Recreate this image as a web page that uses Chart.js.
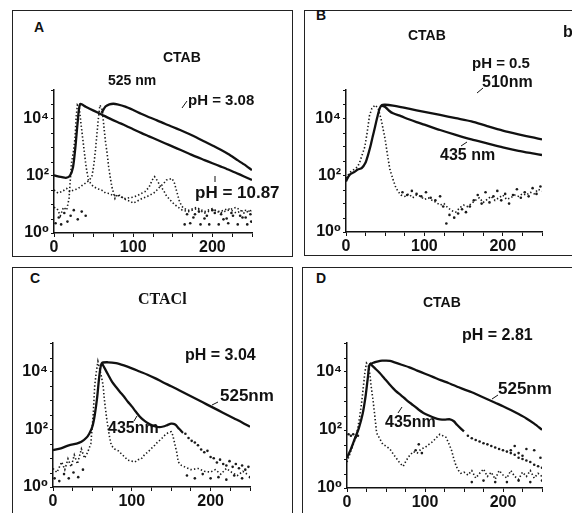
<!DOCTYPE html>
<html>
<head>
<meta charset="utf-8">
<script src="https://cdn.jsdelivr.net/npm/chart.js@4.4.0/dist/chart.umd.min.js"></script>
<style>
body { margin:0; width:572px; height:513px; background:#fff; position:relative; overflow:hidden;
       font-family:'Liberation Sans', Arial, sans-serif; font-weight:bold; color:#111; }
.box { position:absolute; border:1.5px solid #222; }
.t { position:absolute; white-space:nowrap; line-height:1; }
canvas { position:absolute; }
svg { position:absolute; left:0; top:0; }
</style>
</head>
<body>
<div class="box" style="left:12px;top:10px;width:279px;height:245px"></div>
<div class="box" style="left:304px;top:10px;width:290px;height:244px"></div>
<div class="box" style="left:12px;top:267px;width:279px;height:270px"></div>
<div class="box" style="left:302px;top:267px;width:290px;height:270px"></div>

<canvas id="cA" width="246" height="175"></canvas>
<canvas id="cB" width="244" height="174"></canvas>
<canvas id="cC" width="245" height="176"></canvas>
<canvas id="cD" width="243" height="177"></canvas>

<div class="t" style="left:34px;top:20px;font-size:14px">A</div>
<div class="t" style="left:163px;top:50px;font-size:14px">CTAB</div>
<div class="t" style="left:108px;top:73px;font-size:14px">525 nm</div>
<div class="t" style="left:188px;top:92px;font-size:15px">pH = 3.08</div>
<div class="t" style="left:195px;top:184px;font-size:17px">pH = 10.87</div>

<div class="t" style="left:316px;top:8px;font-size:14px">B</div>
<div class="t" style="left:408px;top:28px;font-size:14px">CTAB</div>
<div class="t" style="left:472px;top:55px;font-size:15px">pH = 0.5</div>
<div class="t" style="left:482px;top:74px;font-size:16px">510nm</div>
<div class="t" style="left:440px;top:147px;font-size:16px">435 nm</div>
<div class="t" style="left:563px;top:24px;font-size:16px">b</div>

<div class="t" style="left:30px;top:271px;font-size:14px">C</div>
<div class="t" style="left:138px;top:291px;font-size:16px;font-family:'Liberation Serif',serif">CTACl</div>
<div class="t" style="left:185px;top:347px;font-size:16px">pH = 3.04</div>
<div class="t" style="left:220px;top:387px;font-size:17px">525nm</div>
<div class="t" style="left:108px;top:420px;font-size:16px">435nm</div>

<div class="t" style="left:316px;top:271px;font-size:14px">D</div>
<div class="t" style="left:423px;top:295px;font-size:14px">CTAB</div>
<div class="t" style="left:462px;top:327px;font-size:16px">pH = 2.81</div>
<div class="t" style="left:498px;top:380px;font-size:17px">525nm</div>
<div class="t" style="left:385px;top:414px;font-size:16px">435nm</div>

<svg width="572" height="513" stroke="#111" stroke-width="1">
  <line x1="187" y1="101" x2="182" y2="108"/>
  <line x1="215" y1="176" x2="215" y2="182"/>
  <line x1="483" y1="88" x2="477" y2="93"/>
  <line x1="467" y1="142" x2="461" y2="146"/>
  <line x1="218" y1="402" x2="212" y2="405"/>
  <line x1="137" y1="416" x2="134" y2="421"/>
  <line x1="498" y1="395" x2="492" y2="399"/>
  <line x1="402" y1="407" x2="398" y2="413"/>
</svg>

<script>
// channel axis and counts axis
const xTicksMajor = [0, 100, 200];
const yTicksShown = [1, 100, 10000];
const yTickText = ['10\u2070', '10\u00b2', '10\u2074'];

// ---- A: CTAB, 525 nm ----
const aFastT = [0,5,10,15,20,24,27,30,33,40,50,60,70,80,90,100,110,120,130,140,150,160,170,180,190,200,210,220,230,240,250];
const aFastY = [105,95,90,85,100,200,1000,8000,32000,26000,19000,14000,10200,7600,5750,4270,3160,2400,1820,1380,1050,794,603,457,355,275,214,166,126,95,71];
const aSlowT = [60,65,70,75,80,90,100,110,120,130,140,150,160,170,180,190,200,210,220,230,240,250];
const aSlowY = [15800,26300,31600,33100,31600,26300,20000,14800,11200,8700,6600,5100,3900,2950,2190,1580,1150,830,575,380,250,158];
const aLamp1T = [0,4,8,12,16,19,22,24.5,26.5,28,29.5,32,34,36,38,40.5,43.5,47,50,55,60,65,70,75,80,85,90,95,100,105,110,115,120,124,127,130,134,138,142,147,152,157,162,170,180,190,200,210,220,230,240,250];
const aLamp1Y = [7.9,7.1,4.0,7.9,6.3,16,275,690,2040,11500,29500,22900,6900,2340,794,209,71,50,42,35,32,25,24,20,21,18,16,17,18,20,24,28,40,71,93,71,45,32,20,14,10,7.9,6.3,5.6,7.1,5.0,6.3,5.6,7.1,5.0,6.3,5.6];
const aLamp2T = [0,5,10,16,20,25,30,35,40,45,48,50,52,54,56,58,61,63,65,67,69,71,73,77,80,84,88,92,96,100,105,111,116,121,126,130,134,138,142,146,149,152,155,158,161,164,170,180,190,200,210,220,230,240,250];
const aLamp2Y = [32,25,28,36,28,32,35,45,56,71,100,209,631,2510,10000,29500,20000,5250,1580,631,209,89,42,16,22,20,16,14,13,11,13,16,18,21,25,32,42,52,71,76,81,56,28,14,8.9,7.2,6.3,7.9,5.6,7.1,5.0,6.3,7.9,5.0,6.3];
const aNoiseT = [2,6,9,13,17,21,25,30,35,40,165,172,178,185,190,196,203,208,214,220,226,232,238,244,249,168,176,183,193,200,211,218,224,235,242,248];
const aNoiseY = [2.2,3.5,2.0,5.0,2.5,4.0,6.3,3.0,5.6,4.0,2.0,2.2,4.5,2.0,3.2,2.0,5.0,2.0,3.0,2.2,4.0,2.0,3.5,2.0,2.5,4.5,3.5,5.6,4.0,6.3,4.5,3.2,5.0,4.0,3.5,4.5];

// ---- B: CTAB, pH 0.5 ----
const bSlowT = [0,3,6,10,15,20,25,28,31,34,37,40,43,46,50,60,70,80,100,120,140,160,180,200,220,240,250];
const bSlowY = [60,89,112,126,158,178,282,501,1000,2240,5000,11200,22400,29500,30200,28200,25100,21900,17000,13200,10200,7900,5370,3720,2750,2090,1820];
const bFastT = [45,50,55,60,70,80,90,100,120,140,160,180,200,220,240,250];
const bFastY = [28200,25100,18600,15100,12000,9300,7400,6000,3900,2630,1820,1320,955,725,575,513];
const bLampT = [0,5,10,15,18,21,24,27,30,33,37,41,45,50,53,56,60,63,66,70,75,80,85,90,95,100,105,110,115,120,125,130,135,140,145,150,155,160,165,170,175,180,185,190,195,200,205,210,215,220,225,230,235,240,245,250];
const bLampY = [79,126,158,200,316,562,1000,3160,12600,22400,29500,22900,8900,1780,501,158,71,40,28,20,18,22,16,20,18,14,16,13,11,8.9,10,7.1,5.6,5.0,7.1,8.9,7.9,10,13,16,11,14,18,13,16,20,14,16,20,18,22,20,25,22,32,28];
const bNoiseT = [72,78,84,90,96,102,108,114,120,124,128,132,138,143,148,153,158,163,168,173,178,183,188,193,198,203,208,213,218,223,228,233,238,243,248];
const bNoiseY = [25,20,28,22,18,25,16,13,18,7.9,2.0,4.0,3.2,4.5,6.3,5.0,7.9,13,20,10,25,11,18,28,13,22,10,20,32,16,25,18,35,22,40];

// ---- C: CTACl, pH 3.04 ----
const c525T = [0,10,20,30,36,42,46,50,53,56,59,62,70,80,90,100,110,120,130,140,150,160,170,180,190,200,210,220,230,240,250];
const c525Y = [19,22,28,32,37,50,71,126,316,1260,7900,20000,21400,20000,16600,13200,10200,7900,5900,4270,3160,2290,1660,1200,870,630,457,331,240,174,123];
const c435T = [62,66,70,75,80,85,90,95,100,105,110,115,120,125,130,135,140,145,150,155,160,165];
const c435Y = [20000,12600,7900,4470,2950,2000,1380,912,631,417,282,209,166,141,126,120,126,141,158,148,105,76];
const cLampT = [0,5,11,15,19,23,27,31,36,40,44,48,51,53,55,57,59,61,63.5,65.5,68,70,72,74,78,83,87,91,95,100,104,108,112,116,121,125,129,133,137,142,146,150,152,155,157,159,163,167,175,184,192,200,206,213,220,227,234,241,248];
const cLampY = [4.4,3.2,7.4,4.0,9.5,5.0,13,6.3,21,10,16,32,316,3470,10000,22900,13200,7900,3470,912,251,107,50,28,21,18,14,11,8.5,7.9,7.4,8.9,9.5,13,17,22,28,37,45,63,76,83,63,28,16,7.4,5.6,5.0,4.0,4.4,3.5,3.3,4.0,2.8,4.4,3.2,2.5,3.5,2.6];
const cNoiseT = [168,172,176,180,184,188,192,196,200,204,208,212,216,220,224,228,232,236,240,244,248,170,180,190,200,210,220,230,240,250,2,8,14,20,26,32,38];
const cNoiseY = [71,50,40,35,28,20,16,18,11,10,7.1,8.9,6.3,5.6,7.9,5.0,6.3,4.5,5.6,4.0,5.0,2.5,2.0,2.8,2.0,2.2,1.8,2.5,2.0,2.2,2.0,1.6,2.8,2.0,3.2,2.2,4.0];

// ---- D: CTAB, pH 2.81 ----
const d525T = [0,5,10,15,20,24,27,29,35,40,45,50,55,60,70,80,90,100,110,120,130,140,150,160,170,180,190,200,210,220,230,240,250];
const d525Y = [11,22,50,112,355,1580,7400,17800,21400,23400,24500,24500,24000,21900,17800,14500,11200,8700,6800,5250,4170,3240,2510,2000,1510,1150,870,660,490,355,251,166,102];
const d435T = [29,35,42,48,55,62,70,76,85,92,98,105,112,119,126,132,137,141,146,150];
const d435Y = [20400,14100,9300,6000,3630,2290,1510,1100,708,501,389,316,263,234,229,234,200,151,112,89];
const dLampT = [0,4,8,12,16,19,21,23,25,27,29,31,33.5,36,38,42,46,50,55,60,64,68,72,76,80,85,90,95,100,105,110,115,119,123,127,131,134,137,140,143,146,150,155,160,165,170,175,180,185,190,195,200,205,210,215,220,225,230,235,240,245,250];
const dLampY = [7.9,16,32,63,251,1000,3160,10000,20400,17800,10000,3160,1000,251,79,50,32,28,22,14,10,7.1,5.6,8.9,13,18,16,22,25,32,40,56,71,63,56,32,20,10,5.6,4.0,3.2,3.5,2.8,4.0,2.2,3.2,4.5,2.5,3.5,2.0,4.0,2.8,2.2,4.0,2.5,2.0,3.5,2.5,4.0,2.2,3.2,2.5];
const dNoiseT = [2,5,8,11,14,155,160,165,170,175,180,185,190,195,200,205,210,215,220,225,230,235,240,245,250,88,92,96,210,215,220,225,230,240,248,160,175,190,205,220,235,250];
const dNoiseY = [71,63,71,56,63,63,52,45,40,35,32,28,25,22,20,18,16,14,11,10,8.9,7.9,6.3,5.6,5.0,20,32,16,20,28,16,13,22,20,11,1.6,1.8,1.6,1.6,1.8,1.6,1.8];

function pts(xs, ys) { return xs.map((x, i) => ({ x: x, y: ys[i] })); }
function solid(xs, ys) {
    return { data: pts(xs, ys), borderColor: '#111', borderWidth: 2.3, pointRadius: 0, tension: 0.25 };
}
function dotted(xs, ys) {
    return { data: pts(xs, ys), borderColor: '#1a1a1a', borderWidth: 1.6, borderDash: [1.4, 2.2], pointRadius: 0, tension: 0 };
}
function scatter(xs, ys) {
    return { data: pts(xs, ys), showLine: false, pointRadius: 1.3, pointBackgroundColor: '#1a1a1a', pointBorderWidth: 0 };
}

const tickFont = { family: "'Liberation Sans', 'DejaVu Sans', sans-serif", size: 16, weight: 'bold' };

function makePanel(id, left, top, datasets) {
    const cv = document.getElementById(id);
    cv.style.left = left + 'px';
    cv.style.top = top + 'px';
    new Chart(cv.getContext('2d'), {
        type: 'line',
        data: { datasets: datasets },
        options: {
            responsive: false,
            animation: false,
            layout: { padding: { left: 0, right: 8, top: 10, bottom: 0 } },
            plugins: { legend: { display: false }, tooltip: { enabled: false } },
            scales: {
                x: {
                    type: 'linear', min: 0, max: 250,
                    afterFit: s => { s.height = 22; s.paddingLeft = 0; s.paddingRight = 0; },
                    ticks: {
                        stepSize: 25, autoSkip: false, maxRotation: 0, padding: 1, color: '#111', font: tickFont,
                        callback: v => xTicksMajor.includes(v) ? String(v) : ''
                    },
                    grid: { drawOnChartArea: false, drawTicks: true, tickLength: 4, color: '#111' },
                    border: { color: '#111', width: 1.5 }
                },
                y: {
                    type: 'logarithmic', min: 1, max: 100000,
                    afterBuildTicks: s => { s.ticks = [1, 3, 10, 30, 100, 300, 1000, 3000, 10000, 30000, 100000].map(v => ({ value: v })); },
                    afterFit: s => { s.width = 40; s.paddingTop = 0; s.paddingBottom = 0; },
                    ticks: {
                        autoSkip: false, padding: 2, color: '#111', font: tickFont,
                        callback: v => { const i = yTicksShown.indexOf(v); return i >= 0 ? yTickText[i] : ''; }
                    },
                    grid: { drawOnChartArea: false, drawTicks: true, tickLength: 3, color: '#111' },
                    border: { color: '#111', width: 1.5 }
                }
            }
        }
    });
}

makePanel('cA', 14, 80, [
    solid(aSlowT, aSlowY), solid(aFastT, aFastY),
    dotted(aLamp1T, aLamp1Y), dotted(aLamp2T, aLamp2Y), scatter(aNoiseT, aNoiseY)
]);
makePanel('cB', 306, 80, [
    solid(bSlowT, bSlowY), solid(bFastT, bFastY),
    dotted(bLampT, bLampY), scatter(bNoiseT, bNoiseY)
]);
makePanel('cC', 13, 333, [
    solid(c525T, c525Y), solid(c435T, c435Y),
    dotted(cLampT, cLampY), scatter(cNoiseT, cNoiseY)
]);
makePanel('cD', 307, 333, [
    solid(d525T, d525Y), solid(d435T, d435Y),
    dotted(dLampT, dLampY), scatter(dNoiseT, dNoiseY)
]);
</script>
</body>
</html>
